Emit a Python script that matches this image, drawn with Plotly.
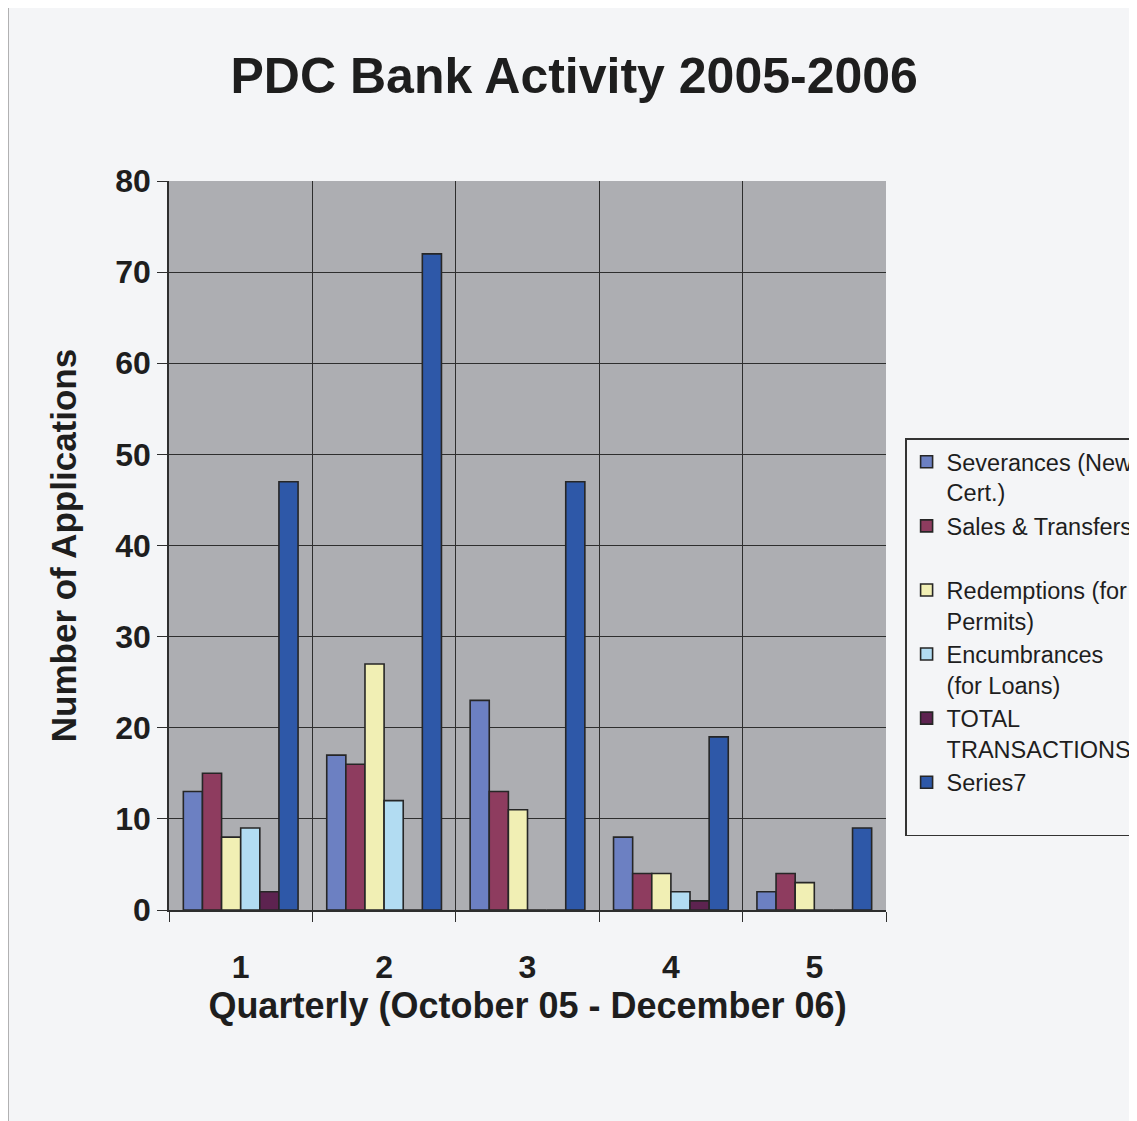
import plotly.graph_objects as go

quarters = ["1", "2", "3", "4", "5"]
series_names = [
    "Severances (New<br>Cert.)",
    "Sales & Transfers<br> ",
    "Redemptions (for<br>Permits)",
    "Encumbrances<br>(for Loans)",
    "TOTAL<br>TRANSACTIONS",
    "Series7<br> ",
]
severances = [13, 17, 23, 8, 2]
sales_transfers = [15, 16, 13, 4, 4]
redemptions = [8, 27, 11, 4, 3]
encumbrances = [9, 12, 0, 2, 0]
total_transactions = [2, 0, 0, 1, 0]
series7 = [47, 72, 47, 19, 9]

values = [severances, sales_transfers, redemptions, encumbrances, total_transactions, series7]
colors = ["#6c80c2", "#8e3c5f", "#f1efb4", "#b2dcf2", "#5d2350", "#2e58a8"]

FONT = "Liberation Sans, Arial, sans-serif"
TXT = "#1e1e1e"

fig = go.Figure()
for name, vals, col in zip(series_names, values, colors):
    fig.add_trace(go.Bar(
        x=quarters, y=vals, name=name,
        marker=dict(color=col, line=dict(color="#262626", width=1.6)),
    ))

fig.update_layout(
    width=1137, height=1121,
    barmode="group", bargap=0.2, bargroupgap=0,
    paper_bgcolor="#f4f5f7", plot_bgcolor="#adaeb2",
    margin=dict(l=161, r=259, t=173, b=219, autoexpand=False),
    font=dict(family=FONT, color=TXT),
    title=dict(text="<b>PDC Bank Activity 2005-2006</b>", x=0.498, xanchor="center",
               y=0.940, yanchor="middle", font=dict(size=50, family=FONT, color=TXT)),
    showlegend=True,
    legend=dict(
        xref="container", yref="container",
        x=0.789, xanchor="left", y=0.616, yanchor="top",
        bgcolor="#f4f5f7", bordercolor="#333333", borderwidth=1.5,
        font=dict(size=23.5, family=FONT, color=TXT),
        valign="top", traceorder="normal", itemwidth=30,
    ),
    shapes=[dict(type="rect", xref="paper", yref="paper",
                 x0=-0.225, x1=1.40, y0=-0.40, y1=1.245,
                 line=dict(color="#555555", width=1.5), layer="below")],
)

fig.update_xaxes(
    type="category", tickson="boundaries", automargin=False,
    showgrid=True, gridcolor="#2e2e2e", gridwidth=1,
    showline=True, linecolor="#2e2e2e", linewidth=1.5,
    ticks="outside", ticklen=10, tickcolor="#2e2e2e",
    tickfont=dict(size=32, family=FONT, color=TXT, weight="bold"),
    ticklabelstandoff=28,
    title=dict(text="<b>Quarterly (October 05 - December 06)</b>",
               font=dict(size=36, family=FONT, color=TXT), standoff=0),
)
fig.update_yaxes(
    range=[0, 80], dtick=10, tick0=0, automargin=False,
    showgrid=True, gridcolor="#2e2e2e", gridwidth=1,
    showline=True, linecolor="#2e2e2e", linewidth=1.5,
    ticks="outside", ticklen=10, tickcolor="#2e2e2e",
    tickfont=dict(size=32, family=FONT, color=TXT, weight="bold"),
    zeroline=False,
    title=dict(text="<b>Number of Applications</b>",
               font=dict(size=35, family=FONT, color=TXT), standoff=28),
)

fig.write_html("out.html")
